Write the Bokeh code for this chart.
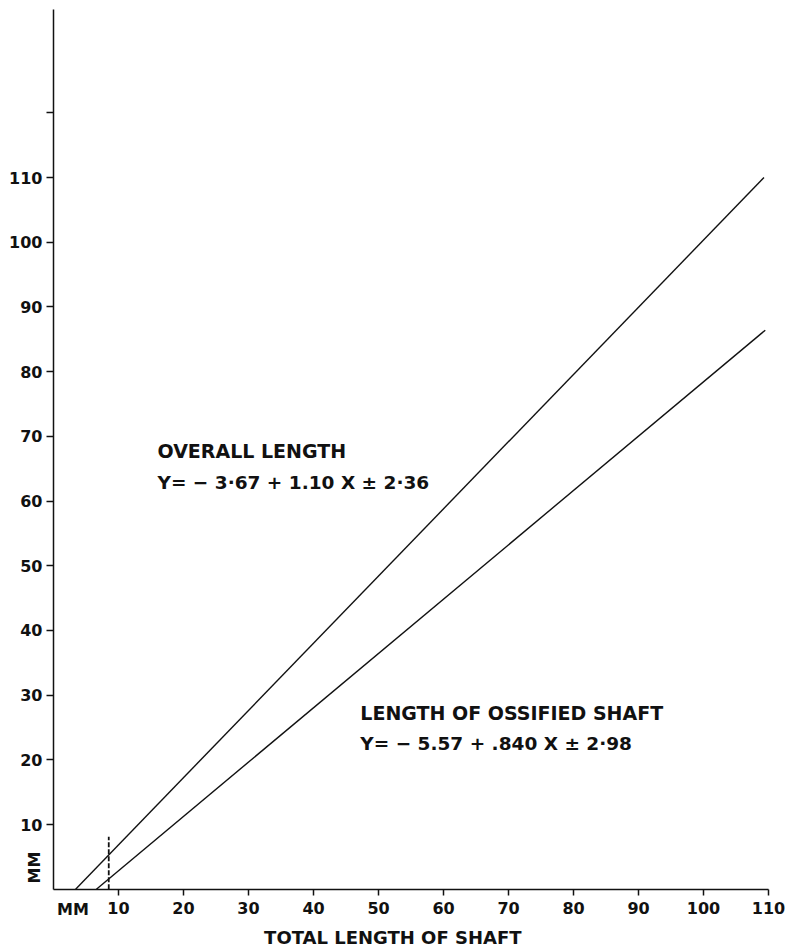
import math

from bokeh.embed import file_html
from bokeh.models import FixedTicker, Label
from bokeh.plotting import figure
from bokeh.resources import INLINE

# Regression lines: endpoints in mm (total length of shaft -> measured length)
overall_x = [3.4, 109.3]
overall_y = [0.0, 110.0]
ossified_x = [6.6, 109.5]
ossified_y = [0.0, 86.4]

# Short dashed marker near the origin
marker_x = [8.5, 8.5]
marker_y = [0.0, 8.1]

x_ticks = [10, 20, 30, 40, 50, 60, 70, 80, 90, 100, 110]
y_ticks = [10, 20, 30, 40, 50, 60, 70, 80, 90, 100, 110, 120]

overall_title = "OVERALL LENGTH"
overall_eq = "Y= \u2212 3\u00b767 + 1.10 X \u00b1 2\u00b736"
ossified_title = "LENGTH OF OSSIFIED SHAFT"
ossified_eq = "Y= \u2212 5.57 + .840 X \u00b1 2\u00b798"
x_title = "TOTAL LENGTH OF SHAFT"
unit_label = "MM"

FONT = "DejaVu Sans"
INK = "#111111"

# The frame fills the whole canvas; the axes sit at the data origin so that
# the unit marks and the axis title can be placed in data space beside them.
p = figure(
    width=787,
    height=949,
    x_range=(-8.154, 112.92),
    y_range=(-9.32, 137.36),
    output_backend="svg",
    toolbar_location=None,
    min_border=0,
)
p.outline_line_color = None
p.xgrid.visible = False
p.ygrid.visible = False
p.background_fill_color = "white"
p.border_fill_color = "white"

p.xaxis.fixed_location = 0
p.yaxis.fixed_location = 0
p.xaxis.ticker = FixedTicker(ticks=x_ticks)
p.yaxis.ticker = FixedTicker(ticks=y_ticks)
p.yaxis.major_label_overrides = {120: ""}
p.xaxis.bounds = (0, 110)
p.yaxis.bounds = (0, 136)
for ax in (p.xaxis, p.yaxis):
    ax.axis_line_color = INK
    ax.axis_line_width = 1.5
    ax.major_tick_line_color = INK
    ax.major_tick_line_width = 1.5
    ax.major_tick_in = 0
    ax.minor_tick_line_color = None
    ax.major_label_text_font = FONT
    ax.major_label_text_font_style = "bold"
    ax.major_label_text_font_size = "16px"
    ax.major_label_text_color = INK
p.xaxis.major_tick_out = 6
p.yaxis.major_tick_out = 7
p.xaxis.major_label_standoff = 7
p.yaxis.major_label_standoff = 4

# Lines
p.line(overall_x, overall_y, line_color=INK, line_width=1.4)
p.line(ossified_x, ossified_y, line_color=INK, line_width=1.4)
p.line(marker_x, marker_y, line_color=INK, line_width=1.8, line_dash="5 2")


def add_text(x, y, text, size="18px", align="left", baseline="alphabetic", angle=0.0):
    p.add_layout(
        Label(
            x=x,
            y=y,
            text=text,
            text_font=FONT,
            text_font_style="bold",
            text_font_size=size,
            text_color=INK,
            text_align=align,
            text_baseline=baseline,
            angle=angle,
        )
    )


add_text(16.0, 67.8, overall_title, size="19px")
add_text(16.0, 62.9, overall_eq, size="18.5px")
add_text(47.2, 27.2, ossified_title, size="19px")
add_text(47.2, 22.5, ossified_eq, size="18.5px")
add_text(52.2, -7.5, x_title, size="18px", align="center", baseline="middle")
add_text(3.0, -3.2, unit_label, size="16px", align="center", baseline="middle")
add_text(-2.9, 3.35, unit_label, size="16px", align="center", baseline="middle", angle=math.pi / 2)

open("out.html", "w").write(file_html(p, INLINE))
